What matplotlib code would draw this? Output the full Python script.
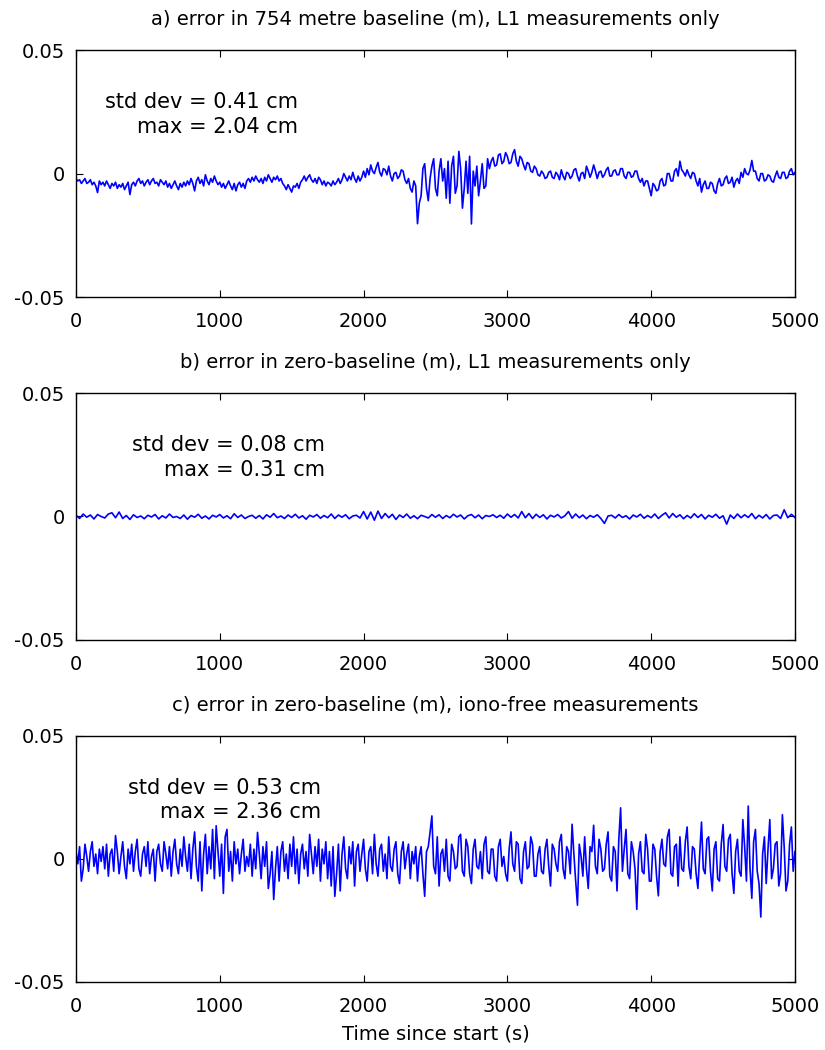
import numpy as np
import matplotlib.pyplot as plt

plt.rcParams['font.family'] = ['DejaVu Sans']

# a) and c) sampled every 12.5 s, b) every 25 s
t_fine = np.linspace(0, 5000, 401)
t_b = np.arange(0, 5001, 25)

# a) 754 m baseline, L1 only (cm)
err_a = [
    -0.2, -0.3, -0.25, -0.4, -0.3, -0.2, -0.4, -0.35, -0.25, -0.45, -0.35, -0.5, -0.77, -0.3, -0.45, -0.35,
    -0.5, -0.3, -0.45, -0.6, -0.4, -0.5, -0.35, -0.6, -0.45, -0.55, -0.4, -0.65, -0.5, -0.35, -0.85, -0.45,
    -0.35, -0.5, -0.3, -0.2, -0.4, -0.3, -0.5, -0.35, -0.25, -0.45, -0.3, -0.2, -0.4, -0.35, -0.5, -0.25,
    -0.35, -0.45, -0.3, -0.55, -0.4, -0.6, -0.45, -0.3, -0.5, -0.65, -0.4, -0.55, -0.35, -0.5, -0.3, -0.45,
    -0.2, -0.4, -0.7, -0.3, -0.15, -0.4, -0.25, -0.5, -0.05, -0.3, -0.45, -0.2, -0.35, -0.1, -0.3, -0.45,
    -0.35, -0.55, -0.4, -0.6, -0.45, -0.3, -0.5, -0.65, -0.4, -0.7, -0.45, -0.35, -0.55, -0.4, -0.6, -0.3,
    -0.2, -0.35, -0.15, -0.3, -0.1, -0.25, -0.35, -0.2, -0.4, -0.15, -0.3, -0.05, -0.2, -0.35, -0.15, -0.25,
    -0.1, -0.3, -0.2, -0.4, -0.5, -0.65, -0.45, -0.6, -0.75, -0.5, -0.55, -0.4, -0.6, -0.35, -0.25, -0.1,
    -0.3, -0.15, -0.05, -0.25, -0.35, -0.2, -0.4, -0.15, -0.25, -0.45, -0.3, -0.5, -0.35, -0.4, -0.5, -0.3,
    -0.45, -0.35, -0.2, -0.4, -0.25, 0.0, -0.15, -0.3, -0.1, -0.25, 0.05, -0.2, -0.35, -0.1, -0.3, -0.15,
    0.1, -0.15, 0.2, -0.05, 0.35, 0.1, 0.0, 0.25, 0.45, 0.05, -0.1, 0.2, 0.15, -0.05, 0.3, -0.1,
    -0.3, 0.0, 0.05, -0.2, -0.1, 0.15, 0.1, -0.25, -0.4, -0.2, -0.6, -0.75, -0.3, -0.5, -2.03, -1.2,
    -0.9, 0.2, 0.4, -0.6, -1.1, -0.2, 0.3, 0.6, -0.6, -0.9, 0.1, 0.6, -0.3, 0.2, -1.0, 0.5,
    -1.2, 0.3, 0.7, -0.8, -0.5, 0.9, 0.2, -1.4, -0.6, 0.5, -0.8, 0.7, -2.04, 0.1, -0.5, 0.3,
    -0.9, -0.3, 0.4, -0.6, -0.5, 0.6, 0.2, 0.5, 0.65, 0.3, 0.35, 0.75, 0.8, 0.4, 0.5, 0.85,
    0.7, 0.4, 0.45, 0.8, 0.97, 0.5, 0.3, 0.7, 0.6, 0.35, 0.15, 0.45, 0.4, 0.1, 0.05, 0.3,
    0.2, -0.05, -0.1, 0.1, 0.0, -0.2, -0.15, 0.05, 0.1, -0.15, -0.2, 0.05, -0.05, -0.25, 0.15, -0.1,
    -0.25, 0.05, 0.0, -0.2, -0.1, 0.15, 0.2, -0.1, -0.3, 0.0, 0.05, -0.2, 0.3, 0.1, -0.15, 0.05,
    0.35, 0.1, -0.2, 0.05, 0.1, -0.15, -0.05, 0.15, 0.25, -0.1, -0.1, 0.1, 0.15, -0.05, -0.05, 0.2,
    0.2, -0.1, -0.2, 0.05, 0.05, -0.15, -0.1, 0.1, 0.1, -0.2, -0.35, -0.2, -0.5, -0.3, -0.3, -0.6,
    -0.9, -0.4, -0.5, -0.7, -0.65, -0.3, -0.2, -0.5, -0.45, 0.0, 0.0, -0.3, -0.3, 0.1, 0.2, -0.1,
    0.5, 0.15, 0.05, -0.1, 0.15, -0.05, -0.2, 0.05, 0.0, -0.3, -0.5, -0.2, -0.75, -0.45, -0.3, -0.6,
    -0.6, -0.35, -0.4, -0.7, -0.8, -0.4, -0.2, -0.5, -0.45, -0.2, -0.1, -0.4, -0.35, -0.15, -0.55, -0.3,
    -0.2, -0.4, 0.05, -0.15, 0.2, 0.0, -0.05, 0.15, 0.53, 0.1, 0.1, -0.2, -0.3, 0.0, 0.0, -0.3,
    -0.25, -0.05, -0.1, -0.3, -0.35, -0.1, 0.1, -0.15, -0.2, 0.05, 0.05, -0.2, -0.15, 0.1, 0.2, -0.05,
    0.05,
]

# b) zero baseline, L1 only (cm)
err_b = [
    0.05, -0.08, 0.1, -0.03, 0.06, -0.1, 0.08, 0.0, -0.06, 0.1,
    0.15, -0.05, 0.18, -0.08, 0.04, -0.12, 0.07, -0.04, 0.02, -0.09,
    0.05, -0.02, 0.08, -0.1, 0.03, -0.06, 0.1, -0.04, 0.0, -0.08,
    0.06, -0.11, 0.04, -0.03, 0.09, -0.07, 0.02, -0.1, 0.05, -0.02,
    0.08, -0.06, 0.03, -0.09, 0.11, -0.04, 0.06, -0.08, 0.0, 0.05,
    -0.07, 0.04, -0.1, 0.07, -0.03, 0.12, -0.05, 0.02, -0.08, 0.06,
    -0.04, 0.09, -0.06, 0.03, -0.11, 0.05, -0.02, 0.08, -0.07, 0.04,
    -0.05, 0.1, -0.08, 0.06, -0.03, 0.07, -0.09, 0.02, 0.05, -0.06,
    0.2, -0.1, 0.18, -0.15, 0.22, -0.08, 0.12, -0.05, 0.09, -0.12,
    0.06, -0.04, 0.1, -0.07, 0.03, -0.09, 0.05, 0.0, -0.06, 0.08,
    -0.03, 0.07, -0.08, 0.04, -0.05, 0.09, -0.02, 0.06, -0.1, 0.03,
    0.08, -0.05, 0.06, -0.09, 0.04, 0.0, 0.07, -0.04, 0.05, -0.07,
    0.1, -0.03, 0.08, -0.06, 0.2, -0.05, 0.12, -0.08, 0.09, -0.04,
    0.07, -0.1, 0.05, -0.02, 0.08, -0.06, 0.03, 0.2, -0.07, 0.1,
    -0.05, 0.06, -0.09, 0.04, -0.03, 0.07, -0.08, -0.28, 0.02, 0.05,
    -0.06, 0.08, -0.04, 0.03, -0.1, 0.06, -0.02, 0.09, -0.07, 0.04,
    -0.05, 0.1, -0.08, 0.05, 0.15, -0.06, 0.12, -0.03, 0.07, -0.09,
    0.04, -0.06, 0.11, -0.04, 0.08, -0.1, 0.05, -0.03, 0.09, -0.07,
    0.03, -0.31, 0.06, -0.08, 0.1, -0.05, 0.07, -0.04, 0.12, -0.09,
    0.05, -0.06, 0.08, -0.1, 0.04, 0.06, -0.08, 0.27, -0.05, 0.09, -0.04,
]

# c) zero baseline, iono-free (cm)
err_c = [
    0.3, -0.2, 0.5, -0.9, -0.4, 0.6, 0.1, -0.5, 0.3, 0.7, -0.3, 0.2, -0.6, 0.4, -0.1, 0.5,
    -0.4, 0.6, -0.7, 0.2, 0.4, -0.5, 0.95, 0.3, -0.6, 0.1, 0.7, -0.3, -0.8, 0.4, -0.2, 0.6,
    -0.5, 0.3, 0.8, -0.4, -0.7, 0.2, 0.5, -0.3, 0.7, -0.6, 0.1, 0.4, -0.9, 0.3, 0.6, -0.2,
    -0.5, 0.7, 0.2, -0.4, 0.5, -0.7, 0.3, 0.8, -0.2, -0.6, 0.4, -0.3, 0.9, 0.1, -0.5, 0.6,
    -0.8, 0.4, 1.1, -0.3, -0.9, 0.7, -1.3, 0.2, 1.0, -0.6, 0.5, -0.4, 1.2, -0.8, 1.35, 0.3,
    -0.7, 0.6, -1.4, 0.9, 1.2, -0.5, 0.3, -0.9, 0.7, -0.2, 0.4, -0.6, 0.2, 0.8, -0.5, 0.1,
    -0.3, 0.6, -0.7, 0.4, -0.4, 1.08, 0.2, -0.8, 0.5, -0.3, 0.7, -1.2, -0.6, 0.3, -1.65, -0.4,
    0.5, -0.9, 0.3, 0.7, -0.5, 0.2, -0.8, 0.6, -0.3, 0.9, -0.6, 0.4, -1.0, 0.2, 0.6, -0.4,
    0.3, -0.7, 1.0, 0.2, -0.6, 0.5, -0.3, 0.8, -0.9, 0.4, -0.2, 0.7, -0.8, 0.3, -1.1, 0.5,
    -1.52, -0.6, 0.6, -1.3, 0.2, 0.9, -0.4, -0.8, 0.5, -0.2, 0.7, -1.1, 0.3, 0.6, -0.5, 0.2,
    0.8, -0.4, -0.9, 0.3, 0.5, -0.6, 1.0, -0.2, -0.7, 0.4, 0.6, -0.5, 0.2, -0.8, 0.9, -0.3,
    -0.5, 0.4, 0.7, -0.6, -1.0, 0.3, 0.7, -0.4, 0.2, 0.6, -0.8, 0.3, -0.2, 0.5, -0.9, 0.1,
    0.5, -0.6, -1.52, 0.3, 0.5, 1.1, 1.75, -0.3, -0.6, 0.9, -1.1, 0.2, 0.4, -0.5, 0.8, -0.7,
    -0.9, 0.6, 0.3, -0.4, -0.3, 0.9, 1.0, -0.5, -0.7, 0.8, 0.5, -0.6, -1.0, 0.4, 0.8, -0.3,
    -0.4, 0.3, -0.8, 0.6, 0.9, -0.5, -0.6, 0.4, 0.4, -0.7, -0.9, 0.5, 0.8, -0.3, 0.1, -0.6,
    -0.9, 0.4, 1.1, -0.2, -0.5, 0.7, 0.6, -0.8, -1.0, 0.3, 0.7, -0.4, -0.3, 0.9, 0.6, -0.7,
    -0.7, 0.2, 0.5, -0.5, -0.6, 0.4, 0.8, -0.3, -1.1, 0.6, 0.4, -0.2, -0.5, 0.7, 1.0, -0.4,
    -0.8, 0.5, 0.3, -0.6, 1.41, 0.2, -0.9, -1.88, 0.6, 0.1, -0.7, 0.9, -0.4, -1.2, 0.5, 0.3,
    1.37, -0.3, -0.6, 0.8, 0.4, -0.5, -0.4, 0.6, 1.1, -0.7, -0.9, 0.5, 0.3, -1.3, 0.8, 2.08,
    -0.5, 0.4, 1.2, -0.6, -0.8, 0.7, 0.3, -0.4, -2.05, 0.2, 0.7, -0.5, -0.6, 1.0, 0.4, -0.9,
    -0.9, 0.6, 0.4, -0.7, -1.5, 0.3, 0.8, -0.2, -0.3, 0.9, 1.2, -0.6, -0.7, 0.5, 0.6, -1.1,
    0.9, -0.4, -0.5, 0.7, 1.3, -0.3, -0.8, 0.5, 0.4, -0.6, -1.2, 0.2, 1.5, -0.4, -0.6, 0.8,
    0.9, -0.5, -1.3, 0.4, 0.7, -0.8, -0.9, 0.6, 1.4, -0.3, -0.5, 0.8, 1.0, -0.6, -1.4, 0.3,
    0.8, -0.5, -0.7, 1.6, 0.5, -0.9, 2.15, -0.4, -1.6, 0.7, 1.2, -0.5, -1.0, -2.36, 0.2, 0.9,
    -1.0, 0.4, 1.6, -0.8, -0.4, 0.6, 0.7, -1.1, -0.6, 1.8, 0.5, -1.3, -0.9, 0.6, 1.3, -0.5,
    0.3,
]

titles = [
    'a) error in 754 metre baseline (m), L1 measurements only',
    'b) error in zero-baseline (m), L1 measurements only',
    'c) error in zero-baseline (m), iono-free measurements',
]
std_labels = ['std dev = 0.41 cm', 'std dev = 0.08 cm', 'std dev = 0.53 cm']
max_labels = ['max = 2.04 cm', 'max = 0.31 cm', 'max = 2.36 cm']
label_right = [1544, 1732, 1704]

fig = plt.figure(figsize=(8.25, 10.5), dpi=100)
rects = [
    [0.0921, 0.7171, 0.8715, 0.2352],
    [0.0921, 0.3905, 0.8715, 0.2352],
    [0.0921, 0.0648, 0.8715, 0.2343],
]
series = [(t_fine, err_a), (t_b, err_b), (t_fine, err_c)]

for rect, (tt, err), title, s1, s2, xr in zip(rects, series, titles,
                                              std_labels, max_labels, label_right):
    ax = fig.add_axes(rect)
    ax.plot(tt, np.array(err) / 100.0, color='blue', lw=1.2)
    ax.set_xlim(0, 5000)
    ax.set_ylim(-0.05, 0.05)
    ax.set_xticks([0, 1000, 2000, 3000, 4000, 5000])
    ax.set_yticks([-0.05, 0, 0.05])
    ax.set_yticklabels(['-0.05', '0', '0.05'])
    ax.tick_params(direction='in', top=True, right=True, length=5,
                   labelsize=14)
    ax.tick_params(axis='x', pad=11)
    ax.tick_params(axis='y', pad=8)
    for sp in ax.spines.values():
        sp.set_linewidth(1.0)
    ax.set_title(title, fontsize=14, pad=18)
    ax.text(xr, 0.029, s1, ha='right', va='center', fontsize=15)
    ax.text(xr, 0.019, s2, ha='right', va='center', fontsize=15)

ax.set_xlabel('Time since start (s)', fontsize=14, labelpad=6)

fig.savefig('out.png', dpi=100)
